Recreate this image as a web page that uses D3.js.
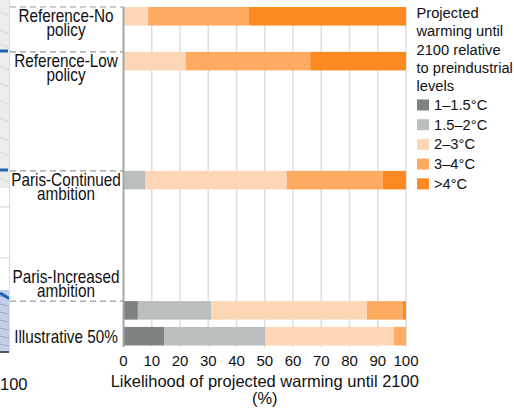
<!DOCTYPE html>
<html>
<head>
<meta charset="utf-8">
<script src="https://cdn.jsdelivr.net/npm/d3@7"></script>
<style>
    body { margin: 0; background: #fff; }
    .svgDiv { width: 514px; height: 412px; }
    text { font-family: "Liberation Sans", Arial, sans-serif; fill: #111; }
</style>
</head>
<body>
<div class="svgDiv" id="chart"></div>
<script>
//scenario labels, one entry per row (split in lines)
var scenarios = [
    ["Reference-No", "policy"],
    ["Reference-Low", "policy"],
    ["Paris-Continued", "ambition"],
    ["Paris-Increased", "ambition"],
    ["Illustrative 50%"]
];

//rows sit at the levels of the neighbouring panel, not evenly
var rowLevel = [0, 1.32, 4.82, 8.65, 9.41];

//warming bins and their colours
var bins = ["1–1.5°C", "1.5–2°C", "2–3°C", "3–4°C", ">4°C"];
var binColors = ["#7d8383", "#b9bebe", "#fdd6b5", "#fdab60", "#fd8921"];

//likelihood (%) of each bin, per scenario
var refNoPolicy = [0, 0, 8.7, 35.7, 55.6];
var refLowPolicy = [0, 0, 22.0, 44.1, 33.9];
var parisContinued = [0, 7.8, 50.0, 34.0, 8.2];
var parisIncreased = [5.1, 26.0, 55.1, 12.7, 1.1];
var illustrative50 = [14.5, 35.7, 45.5, 4.3, 0];

var xTicks = [0, 10, 20, 30, 40, 50, 60, 70, 80, 90, 100];
var legendTitle = ["Projected", "warming until", "2100 relative", "to preindustrial", "levels"];
var axisTitle = ["Likelihood of projected warming until 2100", "(%)"];

class Chart {

    constructor(opts) {
        this.element = opts.element;
        this.rows = opts.rows;
        this.draw();
    }

    draw() {
        var that = this;
        this.width = 514;
        this.height = 412;

        this.svg = d3.select(this.element)
            .append("svg")
            .attr("width", this.width)
            .attr("height", this.height);

        //x: likelihood in %
        this.xScale = d3.scaleLinear()
            .domain([0, 100])
            .range([123.5, 406]);

        //y: row levels
        this.yScale = d3.scaleLinear()
            .domain([0, 10])
            .range([7, 347]);
        var barH = this.yScale(0.545) - this.yScale(0);

        this.drawSidePanel();

        //grid lines
        this.svg.append("g")
            .selectAll("line")
            .data(xTicks.slice(1))
            .enter()
            .append("line")
            .attr("x1", d => that.xScale(d))
            .attr("x2", d => that.xScale(d))
            .attr("y1", this.yScale(0))
            .attr("y2", this.yScale(10))
            .attr("stroke", "#dedede")
            .attr("stroke-width", 1.5);

        //stacked segments
        this.rows.forEach(function (vals, i) {
            var start = d3.cumsum([0].concat(vals));
            var segs = vals.map((v, j) => ({ x0: start[j], x1: start[j] + v, j: j }))
                .filter(s => s.x1 > s.x0);
            that.svg.append("g")
                .selectAll("rect")
                .data(segs)
                .enter()
                .append("rect")
                .attr("x", s => that.xScale(s.x0))
                .attr("width", s => that.xScale(s.x1) - that.xScale(s.x0))
                .attr("y", that.yScale(rowLevel[i]))
                .attr("height", barH)
                .attr("fill", s => binColors[s.j]);
        });

        //left axis line
        this.svg.append("line")
            .attr("x1", this.xScale(0)).attr("x2", this.xScale(0))
            .attr("y1", this.yScale(0)).attr("y2", this.yScale(10))
            .attr("stroke", "#a6a6a6")
            .attr("stroke-width", 2);

        //dashed leaders to each scenario row
        this.svg.append("g")
            .selectAll("line")
            .data(rowLevel.slice(0, 4))
            .enter()
            .append("line")
            .attr("x1", 10)
            .attr("x2", this.xScale(0))
            .attr("y1", d => that.yScale(d))
            .attr("y2", d => that.yScale(d))
            .attr("stroke", "#9a9a9a")
            .attr("stroke-width", 1.2)
            .attr("stroke-dasharray", "6,4");

        //scenario labels (a bit condensed, like the original)
        scenarios.forEach(function (lines, i) {
            var top = that.yScale(rowLevel[i]);
            var first;
            if (lines.length == 1) first = top + barH / 2 + 6.5;
            else if (i == 3) first = top - 18;
            else first = top + 15.5;
            var t = that.svg.append("text")
                .attr("x", 0)
                .attr("y", first)
                .attr("text-anchor", "middle")
                .attr("transform", "translate(66,0) scale(0.85,1)")
                .style("font-size", "18px");
            lines.forEach(function (l, k) {
                t.append("tspan").attr("x", 0).attr("dy", k == 0 ? 0 : 13.8).text(l);
            });
        });

        //tick labels
        this.svg.append("g")
            .selectAll("text")
            .data(xTicks)
            .enter()
            .append("text")
            .attr("x", d => that.xScale(d))
            .attr("y", 366)
            .attr("text-anchor", "middle")
            .style("font-size", "15px")
            .text(d => d);

        //axis title
        this.svg.append("g")
            .selectAll("text")
            .data(axisTitle)
            .enter()
            .append("text")
            .attr("x", (this.xScale(0) + this.xScale(100)) / 2)
            .attr("y", (d, i) => 387 + i * 16.5)
            .attr("text-anchor", "middle")
            .style("font-size", "16.5px")
            .text(d => d);

        //legend
        this.svg.append("g")
            .selectAll("text")
            .data(legendTitle)
            .enter()
            .append("text")
            .attr("x", 416.5)
            .attr("y", (d, i) => 18.3 + i * 18.1)
            .style("font-size", "14.7px")
            .text(d => d);

        var leg = this.svg.append("g")
            .selectAll("g")
            .data(bins)
            .enter()
            .append("g")
            .attr("transform", (d, i) => "translate(417," + (99.5 + i * 19.7) + ")");
        leg.append("rect")
            .attr("width", 12).attr("height", 11)
            .attr("fill", (d, i) => binColors[i]);
        leg.append("text")
            .attr("x", 17).attr("y", 10.5)
            .style("font-size", "14.7px")
            .text(d => d);
    }

    //sliver of the neighbouring panel at the far left
    drawSidePanel() {
        var g = this.svg.append("g");
        g.append("rect").attr("x", 0).attr("y", 0).attr("width", 9).attr("height", 188).attr("fill", "#ececec");
        var greys = [12, 30, 44, 66, 83, 101, 118, 137, 152, 178];
        greys.forEach(function (y) {
            g.append("line").attr("x1", 0).attr("x2", 9).attr("y1", y).attr("y2", y + 4)
                .attr("stroke", "#d2d2d2").attr("stroke-width", 0.8);
        });
        g.append("line").attr("x1", 0).attr("x2", 9).attr("y1", 207).attr("y2", 207).attr("stroke", "#cfcfcf");
        g.append("line").attr("x1", 0).attr("x2", 9).attr("y1", 258).attr("y2", 258).attr("stroke", "#cfcfcf");
        g.append("rect").attr("x", 0).attr("y", 290).attr("width", 9).attr("height", 62).attr("fill", "#c3d0e8");
        [296, 304, 312, 320, 328, 336, 344].forEach(function (y) {
            g.append("line").attr("x1", 0).attr("x2", 9).attr("y1", y).attr("y2", y + 2)
                .attr("stroke", "#8ea6d3").attr("stroke-width", 0.8);
        });
        g.append("line").attr("x1", 0).attr("x2", 9).attr("y1", 352).attr("y2", 352).attr("stroke", "#505a6a").attr("stroke-width", 2);
        [51, 170].forEach(function (y) {
            g.append("line").attr("x1", 0).attr("x2", 8).attr("y1", y).attr("y2", y)
                .attr("stroke", "#1f64b5").attr("stroke-width", 3);
        });
        g.append("line").attr("x1", 0).attr("x2", 10).attr("y1", 293).attr("y2", 299)
            .attr("stroke", "#1f64b5").attr("stroke-width", 3);
        g.append("line").attr("x1", 9.5).attr("x2", 9.5).attr("y1", 0).attr("y2", 352)
            .attr("stroke", "#dcdcdc");
        this.svg.append("text").attr("x", 0).attr("y", 390).style("font-size", "16.5px").text("100");
    }
}

new Chart({
    element: "#chart",
    rows: [refNoPolicy, refLowPolicy, parisContinued, parisIncreased, illustrative50]
});
</script>
</body>
</html>
